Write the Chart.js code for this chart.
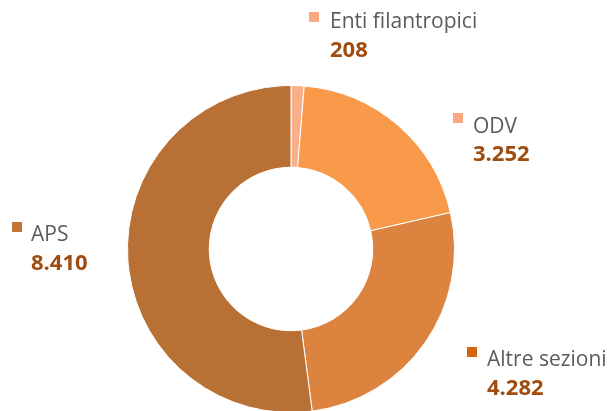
<!DOCTYPE html>
<html><head><meta charset="utf-8">
<script src="https://cdn.jsdelivr.net/npm/chart.js@4/dist/chart.umd.min.js"></script>
<style>
html,body{margin:0;padding:0;background:#fff;overflow:hidden;width:614px;height:411px;}
#wrap{position:absolute;left:0;top:0;width:614px;height:430px;}
</style></head>
<body>
<div id="wrap"><canvas id="c"></canvas></div>
<script>
const categories = ["Enti filantropici", "ODV", "Altre sezioni", "APS"];
const values = [208, 3252, 4282, 8410];
const valueLabels = ["208", "3.252", "4.282", "8.410"];
const sliceColors = ["#f9b08a", "#f89a4a", "#dc833f", "#b87035"];
const markerColors = ["#f9a880", "#f9a880", "#d4640f", "#c47637"];

// label layout in canvas px: marker top-left, text x, name baseline, value baseline
const labelPos = [
  {mx: 309, my: 12, tx: 330, nb: 28, vb: 57},
  {mx: 453, my: 113, tx: 473, nb: 133, vb: 161},
  {mx: 467, my: 347, tx: 487, nb: 366, vb: 395},
  {mx: 12, my: 222, tx: 31, nb: 241, vb: 270}
];

const labelPlugin = {
  id: 'outLabels',
  afterDraw(chart) {
    const ctx = chart.ctx;
    ctx.save();
    categories.forEach((name, i) => {
      const p = labelPos[i];
      ctx.fillStyle = markerColors[i];
      ctx.fillRect(p.mx, p.my, 10, 10);
      ctx.textBaseline = 'alphabetic';
      ctx.textAlign = 'left';
      ctx.fillStyle = '#5b5b5b';
      ctx.font = '21px "Open Sans", sans-serif';
      ctx.fillText(name, p.tx, p.nb);
      ctx.fillStyle = '#a04c0e';
      ctx.font = 'bold 22px "Open Sans", sans-serif';
      ctx.fillText(valueLabels[i], p.tx, p.vb);
    });
    ctx.restore();
  }
};

new Chart(document.getElementById('c'), {
  type: 'doughnut',
  data: {
    labels: categories,
    datasets: [{
      data: values,
      backgroundColor: sliceColors,
      borderColor: '#ffffff',
      borderWidth: 1
    }]
  },
  options: {
    responsive: true,
    maintainAspectRatio: false,
    animation: false,
    cutout: '50%',
    layout: {padding: {top: 85, bottom: 17, left: 127, right: 159}},
    plugins: {legend: {display: false}, tooltip: {enabled: false}}
  },
  plugins: [labelPlugin]
});
</script>
</body></html>
